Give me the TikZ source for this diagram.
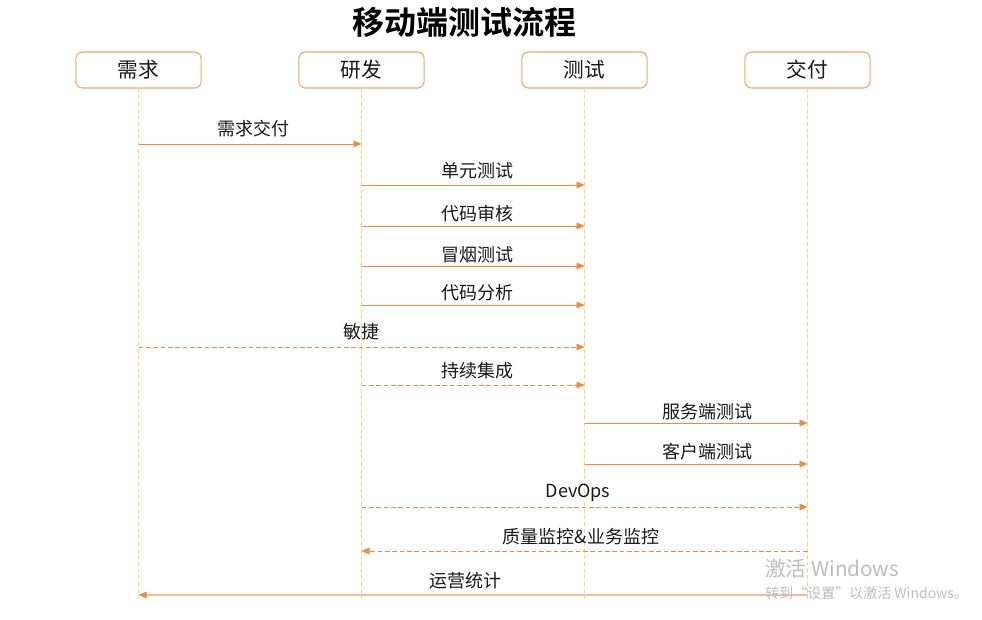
\documentclass[tikz,border=0pt]{standalone}
\usepackage{fontspec}
\setmainfont{Noto Sans CJK SC}
\newfontfamily\cjkbold{Noto Sans CJK SC Bold}
\usetikzlibrary{arrows.meta}
\definecolor{boxor}{HTML}{F5A46A}
\definecolor{lineor}{HTML}{F08A3C}
\definecolor{lifey}{HTML}{FFD46B}
\definecolor{lightor}{HTML}{F5BE98}
\definecolor{wm}{HTML}{BDBDBD}
\tikzset{
  actor/.style={draw=boxor, line width=0.8pt, rounded corners=5pt, minimum width=94pt, minimum height=27pt, inner sep=0pt, font=\fontsize{15.5}{18}\selectfont, text=black!90},
  life/.style={draw=lifey, line width=0.9pt, dash pattern=on 3pt off 2pt},
  msg/.style={draw=lineor, line width=0.7pt, -{Triangle[length=6pt,width=5pt]}},
  dmsg/.style={msg, dash pattern=on 3.5pt off 2pt},
  lbl/.style={font=\fontsize{13.5}{15}\selectfont, text=black!90, inner sep=0pt},
}
\begin{document}
\begin{tikzpicture}[x=0.75pt,y=-0.75pt]
\useasboundingbox (0,0) rectangle (982,619);
\fill[white] (0,0) rectangle (982,619);
\node[font=\cjkbold\fontsize{24}{28}\selectfont, inner sep=0pt] (title) at (464,22) {移动端测试流程};
\node[actor] (a) at (138.5,70) {需求};
\node[actor] (b) at (361.5,70) {研发};
\node[actor] (c) at (584.5,70) {测试};
\node[actor] (d) at (807.5,70) {交付};
\coordinate (ae) at (138.5,600);
\coordinate (be) at (361.5,600);
\coordinate (ce) at (584.5,600);
\coordinate (de) at (807.5,600);
\foreach \s/\e in {a/ae,b/be,c/ce,d/de} \draw[life] (\s.south) -- (\e);
% messages
\foreach \y/\f/\t/\st in {144/a/b/msg, 185/b/c/msg, 226/b/c/msg, 266/b/c/msg, 305/b/c/msg, 347/a/c/dmsg, 385/b/c/dmsg, 423/c/d/msg, 464/c/d/msg, 507/b/d/dmsg, 551/d/b/dmsg}{
  \coordinate (\f\y) at (\f |- 0,\y);
  \coordinate (\t\y) at (\t |- 0,\y);
  \draw[\st] (\f\y) -- (\t\y);
}
\coordinate (d595) at (d |- 0,595);
\coordinate (a595) at (a |- 0,595);
\draw[draw=lightor, line width=1.4pt] (d595) -- ([xshift=4pt]a595);
\fill[lineor] (a595) -- ++(6pt,-2.5pt) -- ++(0,5pt) -- cycle;
\node[lbl] (l1) at (253,129) {需求交付};
\node[lbl] (l2) at (477,171) {单元测试};
\node[lbl] (l3) at (477,214) {代码审核};
\node[lbl] (l4) at (477,255) {冒烟测试};
\node[lbl] (l5) at (477,293) {代码分析};
\node[lbl] (l6) at (361,332) {敏捷};
\node[lbl] (l7) at (477,371) {持续集成};
\node[lbl] (l8) at (707,412) {服务端测试};
\node[lbl] (l9) at (707,452) {客户端测试};
\node[lbl] (l10) at (578,493) {DevOps};
\node[lbl] (l11) at (581,537) {质量监控\&业务监控};
\node[lbl] (l12) at (465,581) {运营统计};
% watermark
\node[anchor=west, text=wm, inner sep=0pt, font=\fontsize{15.5}{17}\selectfont] (w1) at (765,569) {激活 Windows};
\node[anchor=west, text=wm, inner sep=0pt, font=\fontsize{10.5}{12}\selectfont] (w2) at (765,593) {转到“设置”以激活 Windows。};
\end{tikzpicture}
\end{document}
